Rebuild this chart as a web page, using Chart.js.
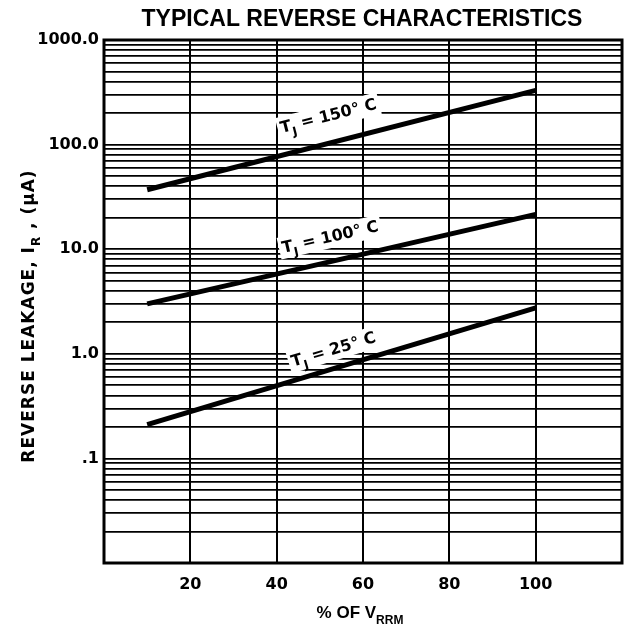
<!DOCTYPE html>
<html>
<head>
<meta charset="utf-8">
<style>
  html, body { margin: 0; padding: 0; background: #fff; }
  #wrap { width: 630px; height: 635px; }
</style>
<script src="https://cdn.jsdelivr.net/npm/chart.js@4.4.1/dist/chart.umd.min.js"></script>
</head>
<body>
<div id="wrap"><canvas id="chart"></canvas></div>
<script>
// ------------------------------------------------------------
// Datos (x = % de VRRM, y = µA)
// ------------------------------------------------------------
const percentVrrm = [10, 100];
const leak150 = [37, 330];
const leak100 = [3.0, 21.5];
const leak25 = [0.21, 2.75];
const curveTemps = ['150', '100', '25'];

// Posición de las etiquetas de cada curva (en unidades de datos)
const labelX = [41.2, 41.5, 43.8];
const labelY = [129, 9.2, 0.75];

// Ejes
const xTicks = [20, 40, 60, 80, 100];
const decades = [0.01, 0.1, 1, 10, 100];
const minorSteps = [1, 2, 3, 4, 5, 6, 7, 8, 9];
const yLabelValues = [1000, 100, 10, 1, 0.1];
const yLabelTexts = ['1000.0', '100.0', '10.0', '1.0', '.1'];

const INK = '#000';
const TICK_FONT = { family: 'DejaVu Sans', weight: 'bold', size: 16 };

const yGridValues = decades.flatMap(d => minorSteps.map(s => +(d * s).toPrecision(6))).concat([1000]);

function yLabelFor(v) {
    const i = yLabelValues.findIndex(l => Math.abs(Math.log10(l) - Math.log10(v)) < 1e-6);
    return i >= 0 ? yLabelTexts[i] : '';
}

// Dibuja texto con partes en subíndice: parts = [[texto, esSub], ...]
function drawParts(ctx, parts, x, y, size, family, align) {
    const subSize = Math.round(size * 0.72);
    const widths = parts.map(([t, sub]) => {
        ctx.font = `bold ${sub ? subSize : size}px ${family}`;
        return ctx.measureText(t).width;
    });
    const total = widths.reduce((a, b) => a + b, 0);
    let cx = align === 'center' ? x - total / 2 : x;
    ctx.textAlign = 'left';
    ctx.textBaseline = 'alphabetic';
    parts.forEach(([t, sub], i) => {
        ctx.font = `bold ${sub ? subSize : size}px ${family}`;
        ctx.fillText(t, cx, sub ? y + size * 0.35 : y);
        cx += widths[i];
    });
    return total;
}

const series = [leak150, leak100, leak25];

// Plugin: marco, título, títulos de ejes y etiquetas de las curvas
const decorPlugin = {
    id: 'decor',
    beforeDatasetsDraw(chart) {
        const { ctx, chartArea: a, scales } = chart;
        ctx.save();
        // etiquetas T_J con fondo blanco, giradas según la pendiente de la línea
        series.forEach((ys, i) => {
            const x0 = scales.x.getPixelForValue(percentVrrm[0]);
            const x1 = scales.x.getPixelForValue(percentVrrm[1]);
            const y0 = scales.y.getPixelForValue(ys[0]);
            const y1 = scales.y.getPixelForValue(ys[1]);
            const ang = Math.atan2(y1 - y0, x1 - x0);
            const px = scales.x.getPixelForValue(labelX[i]);
            const py = scales.y.getPixelForValue(labelY[i]);
            const parts = [['T', false], ['J', true], [' = ' + curveTemps[i] + '\u00B0 C', false]];
            ctx.save();
            ctx.translate(px, py);
            ctx.rotate(ang);
            ctx.fillStyle = '#fff';
            let w = 0;
            parts.forEach(([t, sub]) => {
                ctx.font = `bold ${sub ? 12 : 16}px DejaVu Sans`;
                w += ctx.measureText(t).width;
            });
            ctx.fillRect(-3, -16, w + 6, 22);
            ctx.fillStyle = INK;
            drawParts(ctx, parts, 0, 0, 16, 'DejaVu Sans', 'left');
            ctx.restore();
        });
        // marco del área de la gráfica
        ctx.strokeStyle = INK;
        ctx.lineWidth = 3;
        ctx.strokeRect(a.left, a.top, a.right - a.left, a.bottom - a.top);
        ctx.restore();
    },
    afterDraw(chart) {
        const { ctx } = chart;
        ctx.save();
        ctx.fillStyle = INK;
        ctx.font = 'bold 23px "Liberation Sans"';
        ctx.textAlign = 'center';
        ctx.textBaseline = 'alphabetic';
        ctx.fillText('TYPICAL REVERSE CHARACTERISTICS', 362, 26);
        // título eje X
        drawParts(ctx, [['% OF V', false], ['RRM', true]], 360, 618, 17, '"Liberation Sans"', 'center');
        // título eje Y (girado)
        ctx.translate(34, 316);
        ctx.rotate(-Math.PI / 2);
        ctx.letterSpacing = '1px';
        drawParts(ctx, [['REVERSE LEAKAGE, I', false], ['R', true], [' , (\u00B5A)', false]], 0, 0, 17, 'DejaVu Sans', 'center');
        ctx.restore();
    }
};

const lineStyle = { borderColor: INK, borderWidth: 5, pointRadius: 0, showLine: true, borderCapStyle: 'butt', tension: 0 };

new Chart(document.getElementById('chart'), {
    type: 'scatter',
    data: {
        datasets: series.map((ys, i) => ({
            label: 'TJ = ' + curveTemps[i] + ' C',
            data: percentVrrm.map((x, k) => ({ x, y: ys[k] })),
            ...lineStyle
        }))
    },
    options: {
        responsive: true,
        maintainAspectRatio: false,
        devicePixelRatio: 1,
        animation: false,
        layout: { padding: { top: 40, right: 8, left: 0, bottom: 0 } },
        plugins: { legend: { display: false }, tooltip: { enabled: false }, title: { display: false } },
        scales: {
            x: {
                type: 'linear', min: 0, max: 120,
                afterBuildTicks: (s) => { s.ticks = [0].concat(xTicks, [120]).map(v => ({ value: v })); },
                // altura fija del eje y sin relleno lateral extra
                afterFit: (s) => { s.height = 72; s.paddingLeft = 0; s.paddingRight = 0; },
                ticks: {
                    color: INK, font: TICK_FONT, padding: 12, maxRotation: 0,
                    callback: (v) => xTicks.includes(v) ? String(v) : ''
                },
                grid: {
                    drawTicks: false, lineWidth: 2,
                    color: (c) => (c.tick && xTicks.includes(c.tick.value)) ? INK : 'rgba(0,0,0,0)'
                },
                border: { display: false }
            },
            y: {
                type: 'logarithmic', min: 0.01, max: 1000,
                afterBuildTicks: (s) => { s.ticks = yGridValues.map(v => ({ value: v })); },
                afterFit: (s) => { s.width = 104; },
                ticks: {
                    color: INK, font: TICK_FONT, padding: 5, autoSkip: false,
                    callback: (v) => yLabelFor(v)
                },
                grid: { drawTicks: false, lineWidth: 1.8, color: INK },
                border: { display: false }
            }
        }
    },
    plugins: [decorPlugin]
});
</script>
</body>
</html>
